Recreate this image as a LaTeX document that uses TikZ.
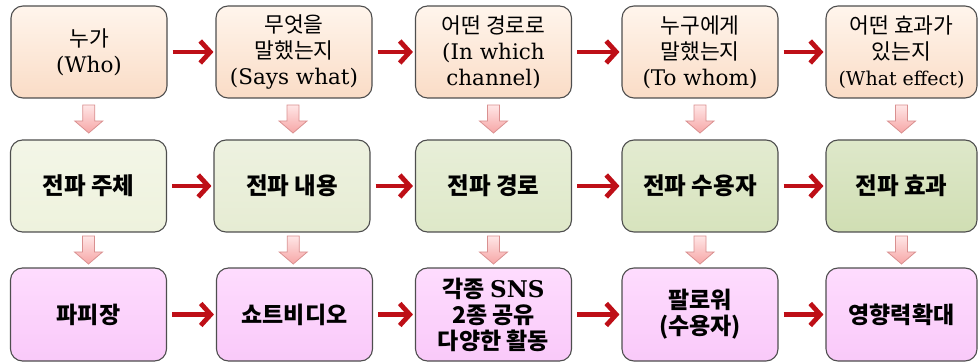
\documentclass[tikz,border=0pt]{standalone}
\usepackage{fontspec}
\usetikzlibrary{arrows.meta,calc}
\newfontfamily\kr{Noto Sans CJK KR}
\newfontfamily\ser{DejaVu Serif}
\definecolor{boxline}{HTML}{4E4E4E}
\definecolor{arrred}{HTML}{BE0F17}
\definecolor{pkline}{HTML}{D99090}
\definecolor{pktop}{HTML}{FFE6E6}
\definecolor{pkbot}{HTML}{F6A6A6}
\definecolor{ttop}{HTML}{FFF5EC}
\definecolor{tbot}{HTML}{FADCC6}
\definecolor{mA}{HTML}{EEF2DD}
\definecolor{mB}{HTML}{E6ECD3}
\definecolor{mC}{HTML}{DEE8C8}
\definecolor{mD}{HTML}{D7E3BD}
\definecolor{mE}{HTML}{D0DEB3}
\definecolor{btop}{HTML}{FEDCFE}
\definecolor{bbot}{HTML}{F9C9F9}
\newcommand\pinkdown[2]{%
  \coordinate (pm) at ($(#1.south)!0.5!(#2.north)$);
  \draw[pinkarr] ([shift={(-6,-14)}]pm) -- ([shift={(6,-14)}]pm) -- ([shift={(6,2)}]pm)
    -- ([shift={(14,2)}]pm) -- ([shift={(0,14)}]pm) -- ([shift={(-14,2)}]pm)
    -- ([shift={(-6,2)}]pm) -- cycle;}
\begin{document}
\begin{tikzpicture}[x=1pt,y=-1pt,
  box/.style={draw=boxline, line width=1.1pt, rounded corners=12pt, align=center,
    inner sep=0pt, minimum height=92pt},
  topbox/.style={box, top color=ttop, bottom color=tbot,
    font={\fontsize{21.5}{26}\selectfont\kr}},
  midbox/.style={box, font={\fontsize{23.5}{27}\selectfont\kr\bfseries}},
  botbox/.style={box, top color=btop, bottom color=bbot, minimum height=93pt,
    font={\fontsize{23}{26}\selectfont\kr\bfseries}},
  redarr/.style={draw=arrred, line width=4.8pt,
    -{Straight Barb[length=10pt,width=22pt]}, shorten <=5pt, shorten >=2pt},
  pinkarr/.style={draw=pkline, line width=0.8pt, top color=pktop, bottom color=pkbot, line join=miter}
]
\useasboundingbox (0,0) rectangle (979,363);
% top row
\node[topbox, minimum width=156pt] (t1) at (89,52) {누가\\{\ser (Who)}};
\node[topbox, minimum width=156pt] (t2) at (294,52) {무엇을\\말했는지\\{\ser (Says what)}};
\node[topbox, minimum width=156pt] (t3) at (493.5,52) {어떤 경로로\\{\ser (In which}\\{\ser channel)}};
\node[topbox, minimum width=156pt] (t4) at (700,52) {누구에게\\말했는지\\{\ser (To whom)}};
\node[topbox, minimum width=151pt] (t5) at (901.5,52) {어떤 효과가\\있는지\\{\ser\fontsize{19}{26}\selectfont (What effect)}};
% middle row
\node[midbox, minimum width=156pt, top color=mA!70!white, bottom color=mA] (m1) at (88.5,186) {전파 주체};
\node[midbox, minimum width=156pt, top color=mB!70!white, bottom color=mB] (m2) at (292,186) {전파 내용};
\node[midbox, minimum width=156pt, top color=mC!70!white, bottom color=mC] (m3) at (493.5,186) {전파 경로};
\node[midbox, minimum width=156pt, top color=mD!70!white, bottom color=mD] (m4) at (700,186) {전파 수용자};
\node[midbox, minimum width=151pt, top color=mE!70!white, bottom color=mE] (m5) at (901.5,186) {전파 효과};
% bottom row
\node[botbox, minimum width=156pt] (b1) at (88.5,314.5) {파피장};
\node[botbox, minimum width=156pt] (b2) at (294.5,314.5) {쇼트비디오};
\node[botbox, minimum width=156pt] (b3) at (493.5,314.5) {각종 {\ser SNS}\\2종 공유\\다양한 활동};
\node[botbox, minimum width=156pt] (b4) at (700,314.5) {팔로워\\(수용자)};
\node[botbox, minimum width=151pt] (b5) at (901.5,314.5) {영향력확대};
% red arrows
\foreach \r in {t,m,b}{
  \draw[redarr] (\r1.east) -- (\r2.west);
  \draw[redarr] (\r2.east) -- (\r3.west);
  \draw[redarr] (\r3.east) -- (\r4.west);
  \draw[redarr] (\r4.east) -- (\r5.west);
}
% pink arrows
\foreach \i in {1,...,5}{
  \pinkdown{t\i}{m\i}
  \pinkdown{m\i}{b\i}
}
\end{tikzpicture}
\end{document}
